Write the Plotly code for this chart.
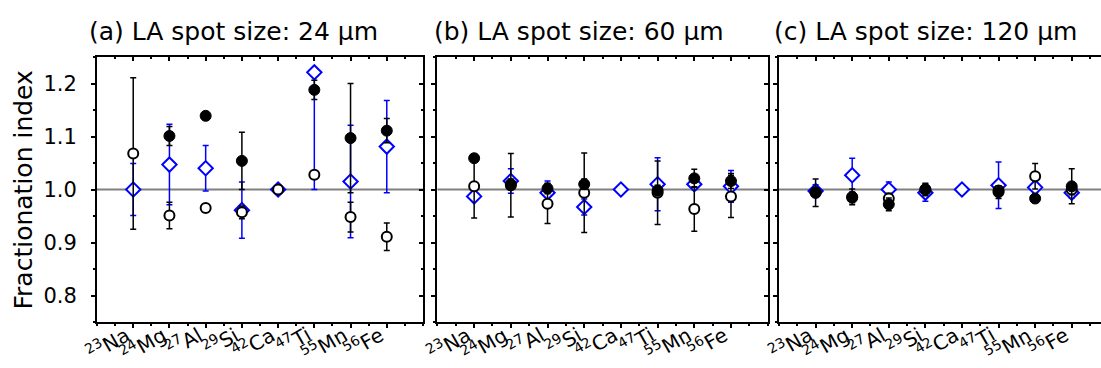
import plotly.graph_objects as go

# ---------------- data ----------------
labels = ["<sup>23</sup>Na", "<sup>24</sup>Mg", "<sup>27</sup>Al", "<sup>29</sup>Si",
          "<sup>42</sup>Ca", "<sup>47</sup>Ti", "<sup>55</sup>Mn", "<sup>56</sup>Fe"]
xpos = [1, 2, 3, 4, 5, 6, 7, 8]

titles = ["(a) LA spot size: 24 μm", "(b) LA spot size: 60 μm", "(c) LA spot size: 120 μm"]

# panel (a) 24 um
filled_a = [None, 1.101, 1.139, 1.054, None, 1.188, 1.097, 1.111]
filled_a_err = [0, 0.018, 0.007, 0.054, 0, 0.018, 0.103, 0.023]
open_a = [1.068, 0.951, 0.965, 0.957, 1.000, 1.028, 0.948, 0.911]
open_a_err = [0.143, 0.025, 0.005, 0.012, 0, 0, 0.028, 0.026]
dia_a = [1.000, 1.047, 1.040, 0.961, 1.000, 1.221, 1.015, 1.081]
dia_a_err_up = [0.049, 0.076, 0.043, 0.053, 0, 0.0, 0.106, 0.087]
dia_a_err_dn = [0.049, 0.076, 0.043, 0.053, 0, 0.221, 0.106, 0.087]

# panel (b) 60 um
filled_b = [1.059, 1.010, 1.002, 1.010, None, 0.998, 1.021, 1.016]
filled_b_err = [0, 0.01, 0.01, 0.01, 0, 0.01, 0.017, 0.014]
open_b = [1.006, 1.008, 0.973, 0.994, None, 0.994, 0.963, 0.987]
open_b_err = [0.060, 0.060, 0.037, 0.075, 0, 0.060, 0.042, 0.040]
dia_b = [0.987, 1.016, 0.994, 0.967, 1.000, 1.010, 1.010, 1.006]
dia_b_err = [0, 0.023, 0.022, 0.015, 0, 0.050, 0.010, 0.030]

# panel (c) 120 um
filled_c = [0.995, 0.986, 0.972, 1.000, None, 0.995, 0.983, 1.006]
filled_c_err = [0.005, 0.015, 0.012, 0.012, 0, 0.012, 0.005, 0.033]
open_c = [0.994, 0.985, 0.983, 1.000, None, 0.998, 1.025, 1.000]
open_c_err = [0.026, 0.010, 0.010, 0.005, 0, 0.005, 0.024, 0.010]
dia_c = [0.997, 1.027, 1.000, 0.994, 1.000, 1.008, 1.004, 0.994]
dia_c_err = [0.012, 0.032, 0.014, 0.016, 0, 0.044, 0.010, 0.010]

panels = [
    dict(filled=filled_a, ferr=filled_a_err, open=open_a, oerr=open_a_err,
         dia=dia_a, derr_up=dia_a_err_up, derr_dn=dia_a_err_dn),
    dict(filled=filled_b, ferr=filled_b_err, open=open_b, oerr=open_b_err,
         dia=dia_b, derr_up=dia_b_err, derr_dn=dia_b_err),
    dict(filled=filled_c, ferr=filled_c_err, open=open_c, oerr=open_c_err,
         dia=dia_c, derr_up=dia_c_err, derr_dn=dia_c_err),
]

# ---------------- layout geometry ----------------
W, H = 1101, 368
ML, MR, MT, MB = 97, 0, 57, 46
domains = [[0.0, 0.3247], [0.3391, 0.668], [0.6793, 1.0]]
xranges = [[0, 9], [0, 9], [0, 8.8]]
yrange = [0.75, 1.25]
FONT = "DejaVu Sans"
BLUE = "#0000ff"

fig = go.Figure()

for i, p in enumerate(panels):
    xa = "x" if i == 0 else f"x{i+1}"
    ya = "y" if i == 0 else f"y{i+1}"
    # diamonds (blue)
    fig.add_trace(go.Scatter(
        x=xpos, y=p["dia"], xaxis=xa, yaxis=ya, mode="markers", showlegend=False,
        marker=dict(symbol="diamond", size=11, color="white",
                    line=dict(color=BLUE, width=2)),
        error_y=dict(type="data", symmetric=False, array=p["derr_up"],
                     arrayminus=p["derr_dn"], color=BLUE, thickness=1.5, width=3)))
    # open circles
    fig.add_trace(go.Scatter(
        x=xpos, y=p["open"], xaxis=xa, yaxis=ya, mode="markers", showlegend=False,
        marker=dict(symbol="circle", size=10, color="white",
                    line=dict(color="black", width=2)),
        error_y=dict(type="data", array=p["oerr"], color="black", thickness=1.5, width=3)))
    # filled circles
    fig.add_trace(go.Scatter(
        x=xpos, y=p["filled"], xaxis=xa, yaxis=ya, mode="markers", showlegend=False,
        marker=dict(symbol="circle", size=11, color="black",
                    line=dict(color="black", width=1)),
        error_y=dict(type="data", array=p["ferr"], color="black", thickness=1.5, width=3)))
    # reference line at 1.0
    fig.add_shape(type="line", xref=f"{xa} domain", yref=ya, x0=0, x1=1, y0=1.0, y1=1.0,
                  line=dict(color="#808080", width=2), layer="below")

common_x = dict(showline=True, linecolor="black", linewidth=2, ticks="outside",
                ticklen=4, tickwidth=1.5, tickcolor="black", showgrid=False, zeroline=False,
                tickmode="array", tickvals=xpos, automargin=False, showticklabels=False,
                minor=dict(ticks="outside", ticklen=2, tickwidth=1.5, tickcolor="black",
                           dtick=0.5, tick0=0, showgrid=False))
common_y = dict(showline=True, linecolor="black", linewidth=2, ticks="outside",
                ticklen=4, tickwidth=1.5, tickcolor="black", showgrid=False, zeroline=False,
                range=yrange, dtick=0.1, tick0=0.8, tickformat=".1f", automargin=False,
                minor=dict(ticks="outside", ticklen=2, tickwidth=1.5, tickcolor="black",
                           dtick=0.05, showgrid=False))

layout = dict(width=W, height=H, margin=dict(l=ML, r=MR, t=MT, b=MB),
              plot_bgcolor="white", paper_bgcolor="white",
              font=dict(family=FONT, color="black"))

for i in range(3):
    xk = "xaxis" if i == 0 else f"xaxis{i+1}"
    yk = "yaxis" if i == 0 else f"yaxis{i+1}"
    xid = "x" if i == 0 else f"x{i+1}"
    yid = "y" if i == 0 else f"y{i+1}"
    layout[xk] = dict(common_x, domain=domains[i], range=xranges[i], anchor=yid)
    layout[yk] = dict(common_y, domain=[0, 1], anchor=xid, ticklabelstandoff=10,
                      showticklabels=(i == 0), tickfont=dict(size=21, family=FONT))

# overlay axes: top (ticks inside) and right (ticks inside)
overlay_specs = [(4, "x", "y", True), (5, "x2", "y2", True), (6, "x3", "y3", False)]
for n, bx, by, right in overlay_specs:
    bxi = 0 if bx == "x" else int(bx[1:]) - 1
    layout[f"xaxis{n}"] = dict(overlaying=bx, side="top", anchor=f"y{n}", domain=domains[bxi],
                               range=xranges[bxi], showline=True, linecolor="black", linewidth=2,
                               ticks="inside", ticklen=4, tickwidth=1.5, tickcolor="black",
                               showticklabels=False, showgrid=False, zeroline=False,
                               tickmode="array", tickvals=xpos, automargin=False,
                               minor=dict(ticks="inside", ticklen=2, tickwidth=1.5,
                                          tickcolor="black", dtick=0.5, tick0=0, showgrid=False))
    layout[f"yaxis{n}"] = dict(overlaying=by, side="right", anchor=f"x{n}", range=yrange,
                               showline=right, linecolor="black", linewidth=2,
                               ticks="inside" if right else "", ticklen=4, tickwidth=1.5,
                               tickcolor="black", showticklabels=False, showgrid=False,
                               zeroline=False, dtick=0.1, tick0=0.8, automargin=False,
                               minor=dict(ticks="inside" if right else "", ticklen=2,
                                          tickwidth=1.5, tickcolor="black", dtick=0.05,
                                          showgrid=False))
    fig.add_trace(go.Scatter(x=[], y=[], xaxis=f"x{n}", yaxis=f"y{n}", showlegend=False,
                             hoverinfo="skip"))

PW = W - ML - MR
PH = H - MT - MB
annotations = []
# rotated category labels under each panel
for i in range(3):
    xa = "x" if i == 0 else f"x{i+1}"
    ya = "y" if i == 0 else f"y{i+1}"
    for xv, lab in zip(xpos, labels):
        annotations.append(dict(text=lab, x=xv, xref=xa, y=0, yref=f"{ya} domain",
                                xanchor="right", yanchor="top", textangle=-30,
                                xshift=2, yshift=3, showarrow=False, borderpad=0,
                                font=dict(size=20, family=FONT, color="black")))
title_left_px = [87, 432, 772]
for t, px in zip(titles, title_left_px):
    annotations.append(dict(text=t, xref="paper", yref="paper",
                            x=(px - ML) / PW, y=(H - MB - 31) / PH,
                            xanchor="left", yanchor="middle", showarrow=False,
                            font=dict(size=25, family=FONT, color="black")))
annotations.append(dict(text="Fractionation index", xref="paper", yref="paper",
                        x=(22.5 - ML) / PW, y=(H - MB - 190) / PH, textangle=-90,
                        xanchor="center", yanchor="middle", showarrow=False,
                        font=dict(size=25, family=FONT, color="black")))
layout["annotations"] = annotations

fig.update_layout(**layout)
fig.write_html("out.html")
